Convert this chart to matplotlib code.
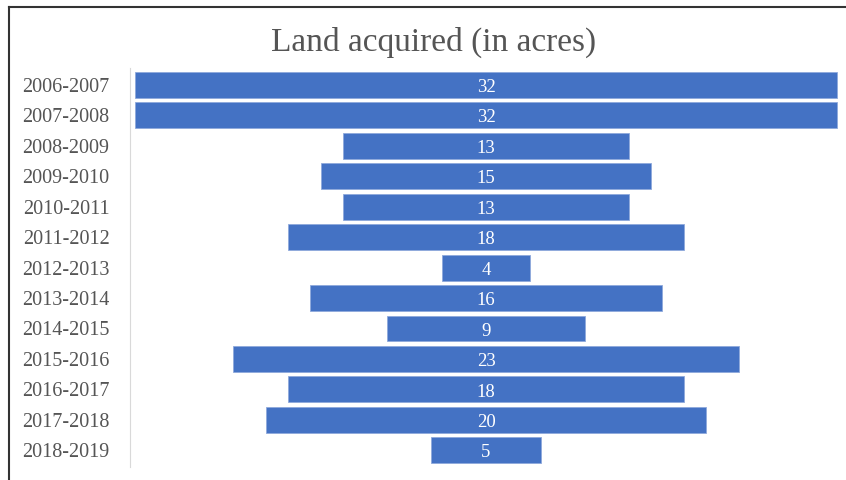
import matplotlib.pyplot as plt
from matplotlib.lines import Line2D

years = ['2006-2007', '2007-2008', '2008-2009', '2009-2010', '2010-2011',
         '2011-2012', '2012-2013', '2013-2014', '2014-2015', '2015-2016',
         '2016-2017', '2017-2018', '2018-2019']
acres = [32, 32, 13, 15, 13, 18, 4, 16, 9, 23, 18, 20, 5]

plt.rcParams['font.family'] = ['Liberation Serif', 'DejaVu Serif']

fig = plt.figure(figsize=(8.46, 4.8), dpi=100)
ax = fig.add_axes([0.154, 0.027, 0.841, 0.831])

pos = list(range(len(years)))
left = [-v / 2 for v in acres]
ax.barh(pos, acres, left=left, height=0.85, color='#4472C4',
        edgecolor='#8FA9DC', linewidth=0.6)
for p, v in zip(pos, acres):
    ax.text(0, p + 0.02, str(v), color='white', ha='center',
            va='center_baseline', fontsize=13.5)

ax.set_xlim(-16.2, 16.2)
ax.set_ylim(len(years) - 0.45, -0.55)
ax.set_yticks(pos)
ax.set_yticklabels(years, fontsize=14.5, color='#555555')
ax.tick_params(axis='y', length=0, pad=15)
ax.set_xticks([])
for s in ['top', 'right', 'bottom']:
    ax.spines[s].set_visible(False)
ax.spines['left'].set_color('#D9D9D9')

fig.text(0.513, 0.912, 'Land acquired (in acres)', ha='center', va='center',
         fontsize=24, color='#555555')

# outer frame, cropped at right and bottom
fig.add_artist(Line2D([0.011, 0.011], [0, 0.986], color='#333333', lw=1.5,
                      transform=fig.transFigure))
fig.add_artist(Line2D([0.011, 1.0], [0.986, 0.986], color='#333333', lw=1.5,
                      transform=fig.transFigure))

fig.savefig('out.png', dpi=100)
